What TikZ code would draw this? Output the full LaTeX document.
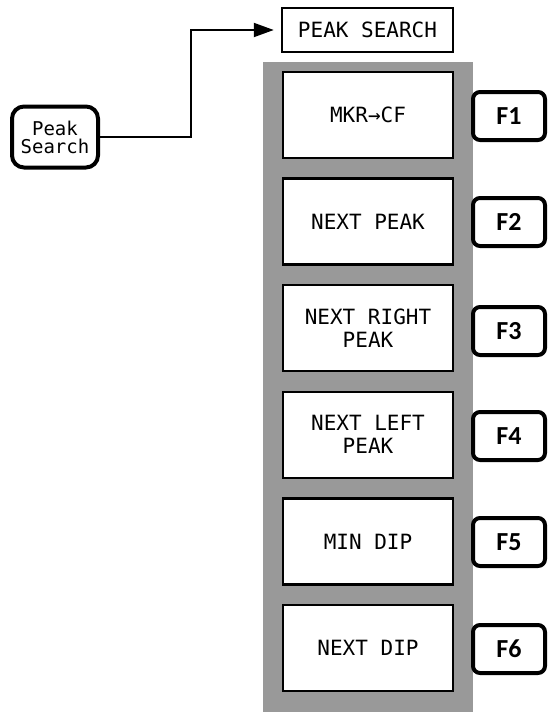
\documentclass[tikz,border=0pt]{standalone}
\usepackage{fontspec}
\usetikzlibrary{positioning,arrows.meta}
\newfontfamily\panelfont{DejaVu Sans Mono}
\newfontfamily\keyfont{Carlito}
\begin{document}
\begin{tikzpicture}[x=1pt, y=-1pt,
  softkey/.style={rectangle, draw, line width=2.5pt, fill=white, minimum width=170pt,
    minimum height=86pt, align=center, font=\panelfont\fontsize{21}{23}\selectfont},
  fkey/.style={rectangle, rounded corners=7pt, draw, line width=4pt, fill=white,
    minimum width=72pt, minimum height=48pt, font=\keyfont\bfseries\fontsize{26}{26}\selectfont},
  hardkey/.style={rectangle, rounded corners=12pt, draw, line width=4pt, fill=white,
    minimum width=86pt, minimum height=61pt, inner sep=1pt, align=center,
    font=\panelfont\fontsize{19}{18}\selectfont}
]
\useasboundingbox (0,0) rectangle (551,712);
% shaded softkey panel
\fill[black!40] (263,62) rectangle (473,712);
% front panel key and menu title
\node[hardkey] (pkey) at (55,137) {Peak\\Search};
\node[softkey, minimum width=171pt, minimum height=44pt] (menu) at (367.5,30) {PEAK SEARCH};
% softkey labels
\node[softkey] (s1) at (368,115) {MKR→CF};
\node[softkey] (s2) at (368,221.6) {NEXT PEAK};
\node[softkey] (s3) at (368,328.2) {NEXT RIGHT\\PEAK};
\node[softkey] (s4) at (368,434.8) {NEXT LEFT\\PEAK};
\node[softkey] (s5) at (368,541.4) {MIN DIP};
\node[softkey] (s6) at (368,648) {NEXT DIP};
% function keys
\node[fkey] (f1) at (509,116) {F1};
\node[fkey] (f2) at (509,222) {F2};
\node[fkey] (f3) at (509,331) {F3};
\node[fkey] (f4) at (509,436) {F4};
\node[fkey] (f5) at (509,542) {F5};
\node[fkey] (f6) at (509,649) {F6};
% connector
\coordinate (bend) at (191,30);
\draw[line width=2pt, -{Triangle[length=20pt,width=14pt]}, shorten >=7pt]
  (pkey.east) -| (bend) -- (bend -| menu.west);
\end{tikzpicture}
\end{document}
